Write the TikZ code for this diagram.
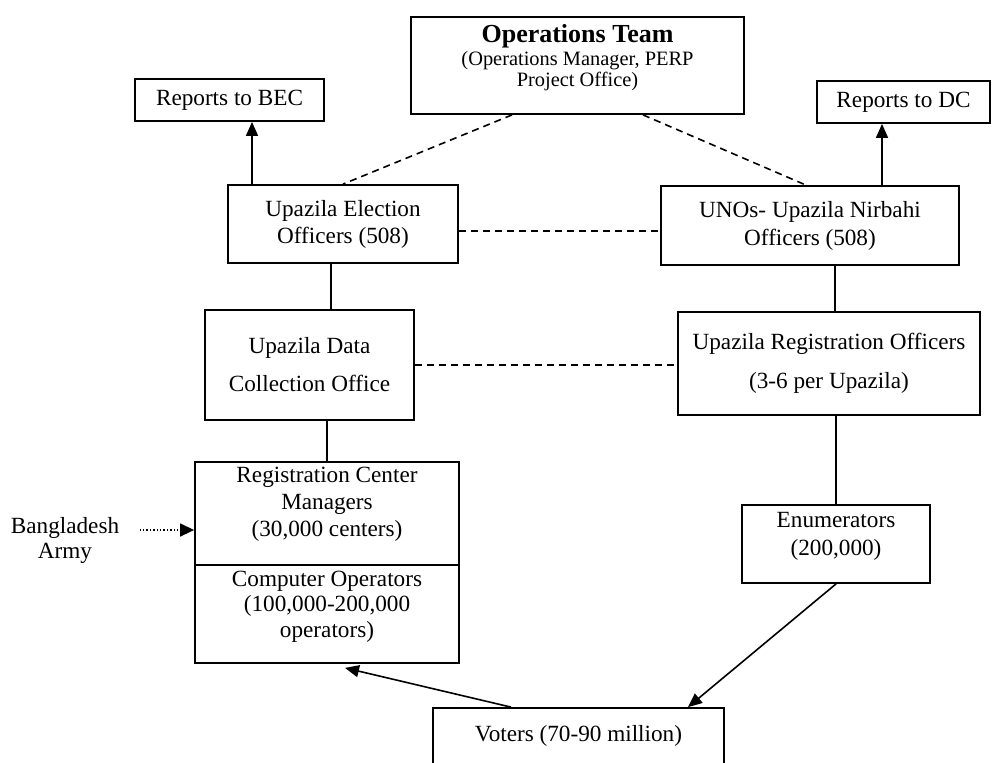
\documentclass[tikz,border=0pt]{standalone}
\usepackage{fontspec}
\setmainfont{Liberation Serif}
\usetikzlibrary{arrows.meta, positioning}
\newcommand{\boxfont}{\fontsize{11.6}{13.5}\selectfont}
\tikzset{
  box/.style={rectangle, draw=black, line width=0.9pt, inner sep=0pt,
    align=center, font=\boxfont},
  boxtext/.style={inner sep=0pt, align=center, anchor=north},
  line/.style={line width=0.8pt},
  dashline/.style={line width=0.8pt, dash pattern=on 3.5pt off 2.5pt},
  arrow/.style={-{Triangle[length=7pt,width=6pt]}, line width=0.8pt},
  dotarrow/.style={-{Triangle[length=7pt,width=6.5pt]}, line width=0.7pt, densely dotted}
}
\begin{document}
\begin{tikzpicture}[x=0.5pt, y=-0.5pt]
  \clip (0,0) rectangle (1000,762);
  % top level
  \node[box, minimum width=166.5pt, minimum height=48.5pt] (ops) at (577.5,65.5) {};
  \node[boxtext, below=4pt of ops.north, font=\fontsize{10.2}{10.5}\selectfont] (opstext)
    {{\fontsize{13}{13}\selectfont\bfseries Operations Team}\\[1pt](Operations Manager, PERP\\Project Office)};
  \node[box, minimum width=94.5pt, minimum height=21pt] (bec) at (229.5,100) {Reports to BEC};
  \node[box, minimum width=86.5pt, minimum height=21pt] (dc) at (903.5,102) {Reports to DC};

  % officers
  \node[box, minimum width=115pt, minimum height=39pt] (ueo) at (343,224) {Upazila Election\\Officers (508)};
  \node[box, minimum width=149pt, minimum height=39.5pt, font=\fontsize{11.6}{14}\selectfont] (uno) at (810,225.5)
    {UNOs- Upazila Nirbahi\\Officers (508)};
  \node[box, minimum width=104.5pt, minimum height=55pt, font=\fontsize{11.6}{19}\selectfont] (udco) at (309.5,365)
    {Upazila Data\\Collection Office};
  \node[box, minimum width=151pt, minimum height=51.5pt, font=\fontsize{11.6}{19.5}\selectfont] (uro) at (829,363.5)
    {Upazila Registration Officers\\(3-6 per Upazila)};

  % field level
  \node[box, minimum width=132pt, minimum height=51.5pt] (rcm) at (327,513.5) {};
  \node[boxtext, below=2.65pt of rcm.north, font=\boxfont] (rcmtext)
    {Registration Center\\Managers\\(30,000 centers)};
  \node[box, minimum width=132pt, minimum height=49pt] (cop) at (327,614) {};
  \node[boxtext, below=3.15pt of cop.north, font=\fontsize{11.6}{12.75}\selectfont] (coptext)
    {Computer Operators\\(100,000-200,000\\operators)};
  \node[box, minimum width=94pt, minimum height=39pt] (enum) at (836,544) {};
  \node[boxtext, below=3.65pt of enum.north, font=\fontsize{11.6}{14}\selectfont] (enumtext)
    {Enumerators\\(200,000)};
  \node[box, minimum width=145.5pt, minimum height=41pt] (voters) at (578.5,749) {};
  \node[boxtext, below=9pt of voters.north, font=\boxfont] (voterstext) {Voters (70-90 million)};
  \node[boxtext, anchor=center, font=\fontsize{11.6}{12.5}\selectfont] (army) at (65,540) {Bangladesh\\Army};

  % connectors
  \coordinate (becfoot) at ([xshift=11.25pt]bec.south);
  \draw[arrow] (becfoot |- ueo.north) -- (becfoot);
  \coordinate (dcfoot) at ([xshift=-10.75pt]dc.south);
  \draw[arrow] (dcfoot |- uno.north) -- (dcfoot);
  \draw[dashline] ([xshift=-32.75pt]ops.south) -- (ueo.north);
  \draw[dashline] ([xshift=32.75pt]ops.south) -- ([xshift=-2pt]uno.north);
  \coordinate (ueodash) at ([yshift=-3.5pt]ueo.east);
  \draw[dashline] (ueodash) -- (ueodash -| uno.west);
  \draw[dashline] (udco.east) -- (udco.east -| uro.west);
  \coordinate (ueofoot) at ([xshift=-6pt]ueo.south);
  \draw[line] (ueofoot) -- (ueofoot |- udco.north);
  \coordinate (unofoot) at ([xshift=12.5pt]uno.south);
  \draw[line] (unofoot) -- (unofoot |- uro.north);
  \draw[line] (rcm.north |- udco.south) -- (rcm.north);
  \draw[line] (enum.north |- uro.south) -- (enum.north);
  \draw[arrow] (enum.south) -- ([xshift=54.75pt]voters.north);
  \draw[arrow] ([xshift=-33.75pt]voters.north) -- ([xshift=9pt,yshift=-2pt]cop.south);
  \coordinate (armyin) at ([yshift=-8.25pt]rcm.west);
  \coordinate (armytail) at ([xshift=10pt]army.east);
  \draw[dotarrow] (armytail |- armyin) -- (armyin);
\end{tikzpicture}
\end{document}
